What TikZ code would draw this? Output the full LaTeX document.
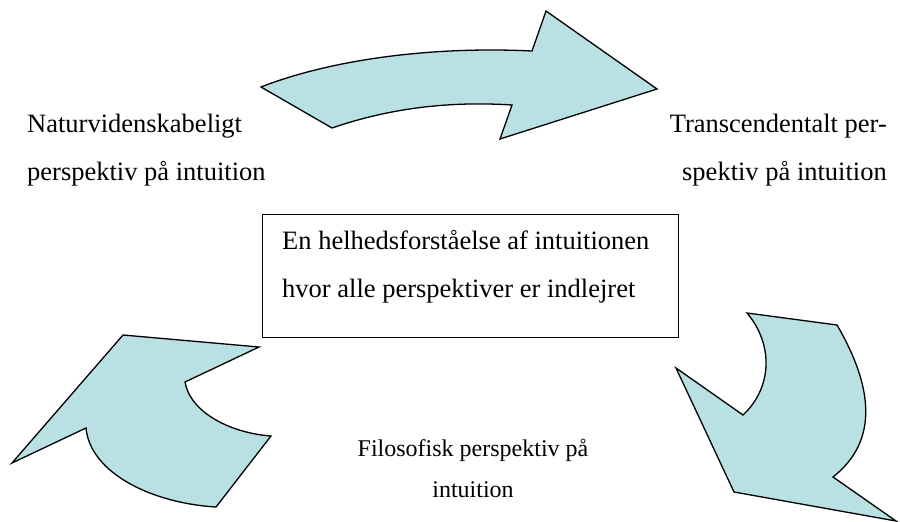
\documentclass[tikz,border=0pt]{standalone}
\usepackage{fontspec}
\setmainfont{Liberation Serif}
\definecolor{arrowfill}{RGB}{185,224,227}
\begin{document}
\begin{tikzpicture}[x=1pt,y=-1pt,
  blockarrow/.style={fill=arrowfill,draw=black,line width=1.3pt,line join=miter},
  bigtext/.style={font=\fontsize{26.5}{48}\selectfont,inner sep=0pt},
  smalltext/.style={font=\fontsize{24}{41}\selectfont,inner sep=0pt},
  framebox/.style={draw=black,line width=1.3pt,inner sep=0pt}]
\useasboundingbox (0,0) rectangle (900,522);
% top arrow
\draw[blockarrow] (261,87) .. controls (330,60) and (430,46) .. (532,51)
  -- (546,11) -- (657,89) -- (500,139) -- (512,105)
  .. controls (450,101) and (390,108) .. (332,128) -- cycle;
% bottom-left arrow
\draw[blockarrow] (123,335) -- (259,347) -- (185,382)
  .. controls (190,412) and (230,433) .. (271,436)
  -- (216,507)
  .. controls (150,503) and (90,472) .. (86,428)
  -- (12,463) -- cycle;
% bottom-right arrow
\draw[blockarrow] (747,313) -- (837,325)
  .. controls (872,385) and (880,440) .. (833,477)
  -- (896,521) -- (734,492) -- (676,368) -- (743,415)
  .. controls (772,388) and (774,345) .. (747,313) -- cycle;
% centre box
\node[framebox,minimum width=416pt,minimum height=123pt,anchor=north west] (box) at (262,214) {};
\node[bigtext,align=left,anchor=base west] (boxtext) at (282,297)
  {En helhedsforståelse af intuitionen\\hvor alle perspektiver er indlejret};
% labels
\node[bigtext,align=left,anchor=base west] (natur) at (27,180)
  {Naturvidenskabeligt\\perspektiv på intuition};
\node[bigtext,align=right,anchor=base east] (trans) at (887,180)
  {Transcendentalt per-\\spektiv på intuition};
\node[smalltext,align=center,anchor=base] (filo) at (473,497)
  {Filosofisk perspektiv på\\intuition};
\end{tikzpicture}
\end{document}
